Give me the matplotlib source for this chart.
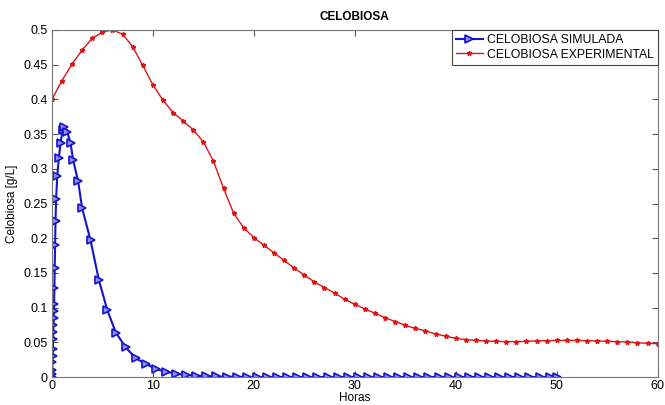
import numpy as np
import matplotlib
matplotlib.use("Agg")
import matplotlib.pyplot as plt

plt.rcParams['font.family'] = ['Liberation Sans', 'DejaVu Sans']

# experimental data, one point per hour
horas_exp = [0, 1, 2, 3, 4, 5, 6, 7, 8, 9, 10, 11, 12, 13, 14, 15, 16, 17, 18, 19,
             20, 21, 22, 23, 24, 25, 26, 27, 28, 29, 30, 31, 32, 33, 34, 35, 36, 37, 38, 39,
             40, 41, 42, 43, 44, 45, 46, 47, 48, 49, 50, 51, 52, 53, 54, 55, 56, 57, 58, 59, 60]
celob_exp = [0.400, 0.427, 0.451, 0.471, 0.488, 0.497, 0.500, 0.494, 0.476, 0.449,
             0.421, 0.399, 0.381, 0.369, 0.356, 0.339, 0.311, 0.272, 0.236, 0.215,
             0.201, 0.190, 0.179, 0.168, 0.157, 0.147, 0.137, 0.129, 0.121, 0.112,
             0.105, 0.098, 0.092, 0.0855, 0.080, 0.0745, 0.070, 0.0667, 0.062, 0.059,
             0.0557, 0.054, 0.0528, 0.0519, 0.0514, 0.051, 0.051, 0.0514, 0.052, 0.0524,
             0.0528, 0.0528, 0.0528, 0.0524, 0.052, 0.0514, 0.051, 0.0505, 0.0495, 0.0486, 0.048]

# simulated data (solver time steps)
horas_sim = [0, 0.02, 0.04, 0.06, 0.08, 0.10, 0.12, 0.14, 0.16, 0.18, 0.20, 0.22,
             0.25, 0.28, 0.32, 0.36, 0.42, 0.53, 0.69, 0.86, 1.06, 1.19, 1.52, 1.85,
             2.1, 2.6, 3.0, 3.83, 4.65, 5.5, 6.34, 7.3, 8.3, 9.3, 10.3, 11.3, 12.3, 13.3,
             14.3, 15.3, 16.3, 17.3, 18.3, 19.3, 20.3, 21.3, 22.3, 23.3, 24.3, 25.3, 26.3,
             27.3, 28.3, 29.3, 30.3, 31.3, 32.3, 33.3, 34.3, 35.3, 36.3, 37.3, 38.3, 39.3,
             40.3, 41.3, 42.3, 43.3, 44.3, 45.3, 46.3, 47.3, 48.3, 49.3, 50.0]
celob_sim = [0.0, 0.004, 0.010, 0.022, 0.030, 0.040, 0.055, 0.065, 0.075, 0.085, 0.095, 0.105,
             0.128, 0.157, 0.190, 0.225, 0.257, 0.289, 0.316, 0.337, 0.356, 0.360, 0.353, 0.337,
             0.313, 0.282, 0.243, 0.197, 0.140, 0.096, 0.064, 0.043, 0.027, 0.019, 0.0115, 0.0077,
             0.005, 0.003, 0.002, 0.0012, 0.0008, 0.0005, 0.0003, 0.0002, 0.0001, 0.0001, 0.0,
             0.0, 0.0, 0.0, 0.0, 0.0, 0.0, 0.0, 0.0, 0.0, 0.0, 0.0, 0.0, 0.0, 0.0, 0.0, 0.0,
             0.0, 0.0, 0.0, 0.0, 0.0, 0.0, 0.0, 0.0, 0.0, 0.0, 0.0, 0.0]

fig = plt.figure(figsize=(6.65, 4.05), dpi=100)
ax = fig.add_axes([0.078, 0.069, 0.911, 0.857])

ax.plot(horas_sim, celob_sim, color='#1414cc', linewidth=1.5, marker='>',
        markersize=5.5, markerfacecolor='#9090f0', markeredgewidth=1.2,
        label='CELOBIOSA SIMULADA')
ax.plot(horas_exp, celob_exp, color='#dd1515', linewidth=1.0, marker='*',
        markersize=3.5, label='CELOBIOSA EXPERIMENTAL')

ax.set_xlim(0, 60)
ax.set_ylim(0, 0.5)
ax.set_xticks([0, 10, 20, 30, 40, 50, 60])
ax.set_yticks([0, 0.05, 0.1, 0.15, 0.2, 0.25, 0.3, 0.35, 0.4, 0.45, 0.5])
ax.set_yticklabels(['0', '0.05', '0.1', '0.15', '0.2', '0.25', '0.3', '0.35', '0.4', '0.45', '0.5'])
ax.tick_params(direction='in', top=True, right=True, labelsize=9, length=4,
               color='#555555', pad=3)
ax.tick_params(axis='x', pad=2)
for s in ax.spines.values():
    s.set_color('#777777')
    s.set_linewidth(0.8)

ax.set_title('CELOBIOSA', fontsize=8.5, fontweight='bold', pad=7)
ax.set_xlabel('Horas', fontsize=8.5, labelpad=0)
ax.set_ylabel('Celobiosa [g/L]', fontsize=8.5, labelpad=4)

leg = ax.legend(loc='upper right', bbox_to_anchor=(1.0, 1.0), borderaxespad=0.0,
                fontsize=8.8, fancybox=False, framealpha=1, handlelength=2.2,
                handletextpad=0.3, borderpad=0.35, labelspacing=0.2)
leg.get_frame().set_edgecolor('#444444')
leg.get_frame().set_linewidth(0.8)

fig.savefig('out.png', dpi=100)
